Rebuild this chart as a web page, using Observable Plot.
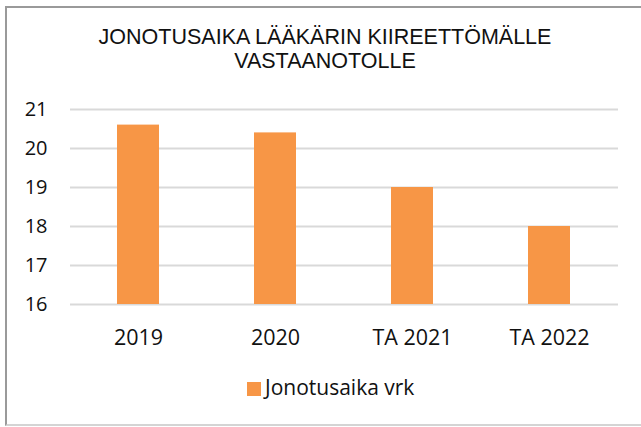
<!DOCTYPE html>
<html><head><meta charset="utf-8">
<script src="https://cdn.jsdelivr.net/npm/d3@7"></script>
<script src="https://cdn.jsdelivr.net/npm/@observablehq/plot@0.6"></script>
<style>
html,body{margin:0;padding:0;background:#fff;overflow:hidden;}
#frame{position:absolute;left:5px;top:6px;width:700px;height:420px;border-left:2px solid #9a9a9a;border-top:2px solid #9a9a9a;border-bottom:2px solid #d4d4d4;box-sizing:border-box;}
#title{position:absolute;left:0;top:26px;width:650px;text-align:center;font-family:"Liberation Sans",Arial,sans-serif;font-size:21.5px;line-height:23.5px;color:#111;}
#chart{position:absolute;left:0;top:90px;}
#legend-sw{position:absolute;left:247px;top:382px;width:14px;height:14px;background:#F79646;}
#legend-tx{position:absolute;left:265px;top:377px;font-family:"Open Sans","Liberation Sans",sans-serif;font-size:21px;line-height:21px;color:#111;white-space:nowrap;}
</style></head>
<body>
<div id="frame"></div>
<div id="title">JONOTUSAIKA LÄÄKÄRIN KIIREETTÖMÄLLE<br>VASTAANOTOLLE</div>
<div id="chart"></div>
<div id="legend-sw"></div>
<div id="legend-tx"></div>
<script>
const categories = ["2019", "2020", "TA 2021", "TA 2022"];
const values = [20.6, 20.4, 19.0, 18.0];
const yTicks = [16, 17, 18, 19, 20, 21];
const seriesName = "Jonotusaika vrk";

document.getElementById("legend-tx").textContent = seriesName;

const data = categories.map((c, i) => ({category: c, value: values[i]}));

const plot = Plot.plot({
  width: 641,
  height: 270,
  marginTop: 19,
  marginBottom: 56,
  marginLeft: 70,
  marginRight: 23,
  style: {fontFamily: "'Open Sans', 'Liberation Sans', sans-serif", fontSize: "20px", color: "#111", background: "transparent", overflow: "visible"},
  x: {domain: categories, paddingInner: 0.69, paddingOuter: 0.345},
  y: {domain: [16, 21]},
  marks: [
    Plot.gridY(yTicks, {stroke: "#d9d9d9", strokeOpacity: 1, strokeWidth: 2}),
    Plot.barY(data, {x: "category", y1: 16, y2: "value", fill: "#F79646"}),
    Plot.axisX({label: null, tickSize: 0, tickPadding: 25, fontSize: 21.5, fill: "#111"}),
    Plot.axisY(yTicks, {label: null, tickSize: 0, tickPadding: 23, tickFormat: "d", fontSize: 20, fill: "#111"})
  ]
});
document.getElementById("chart").appendChild(plot);
</script>
</body></html>
